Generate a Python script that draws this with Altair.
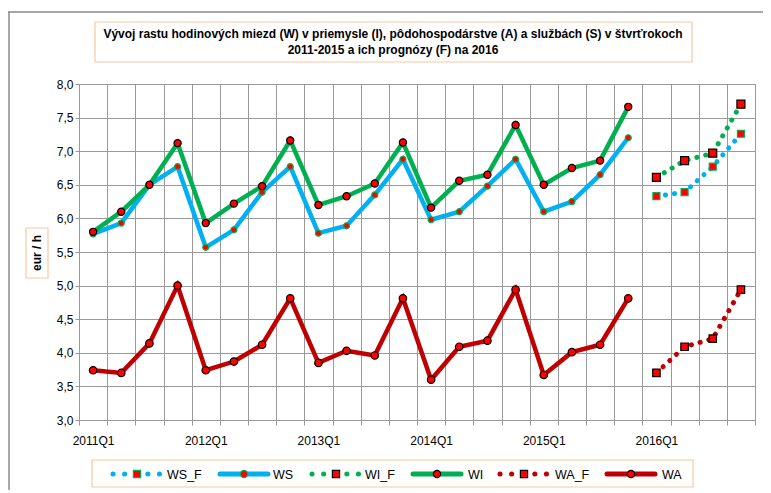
import altair as alt
import pandas as pd

# ---------------- data ----------------
QUARTERS = ["2011Q1", "2011Q2", "2011Q3", "2011Q4",
            "2012Q1", "2012Q2", "2012Q3", "2012Q4",
            "2013Q1", "2013Q2", "2013Q3", "2013Q4",
            "2014Q1", "2014Q2", "2014Q3", "2014Q4",
            "2015Q1", "2015Q2", "2015Q3", "2015Q4",
            "2016Q1", "2016Q2", "2016Q3", "2016Q4"]

WS = [5.77, 5.93, 6.50, 6.77, 5.57, 5.83, 6.39, 6.77, 5.78, 5.89,
      6.35, 6.88, 5.98, 6.10, 6.48, 6.88, 6.10, 6.25, 6.65, 7.20]
WI = [5.80, 6.10, 6.50, 7.12, 5.93, 6.22, 6.48, 7.16, 6.20, 6.33,
      6.52, 7.13, 6.16, 6.56, 6.65, 7.39, 6.50, 6.75, 6.86, 7.66]
WA = [3.74, 3.70, 4.14, 5.00, 3.74, 3.87, 4.12, 4.81, 3.85, 4.03,
      3.96, 4.81, 3.60, 4.09, 4.18, 4.94, 3.67, 4.01, 4.12, 4.81]
WS_F = [6.33, 6.39, 6.77, 7.26]
WI_F = [6.61, 6.86, 6.97, 7.70]
WA_F = [3.70, 4.09, 4.21, 4.94]

Y_TICKS = [3.0, 3.5, 4.0, 4.5, 5.0, 5.5, 6.0, 6.5, 7.0, 7.5, 8.0]

TITLE_LINE1 = "Vývoj rastu hodinových miezd (W) v priemysle (I), pôdohospodárstve (A) a službách (S) v štvrťrokoch"
TITLE_LINE2 = "2011-2015 a ich prognózy (F) na 2016"
Y_TITLE = "eur / h"
LEGEND_NAMES = ["WS_F", "WS", "WI_F", "WI", "WA_F", "WA"]

# ---------------- styles / layout ----------------
BLUE, GREEN, DRED, RED = "#00B0F0", "#00B050", "#C00000", "#FF0000"
PEACH = "#FAC8A0"
GRID = "#999999"
FONT = "Liberation Sans Narrow, Liberation Sans, Arial"
W, H = 676, 336
N = len(QUARTERS)

STYLE = {
    "WS_F": dict(color=BLUE, mstroke=GREEN, shape="square", size=49, fc=True),
    "WS":   dict(color=BLUE, mstroke=GREEN, shape="circle", size=36, fc=False),
    "WI_F": dict(color=GREEN, mstroke="#000000", shape="square", size=64, fc=True),
    "WI":   dict(color=GREEN, mstroke="#000000", shape="circle", size=52, fc=False),
    "WA_F": dict(color=DRED, mstroke="#000000", shape="square", size=56, fc=True),
    "WA":   dict(color=DRED, mstroke="#000000", shape="circle", size=56, fc=False),
}
LEG_SYM_X = [58, 165, 257, 358, 445, 552]
LEG_LAB_X = [88, 194, 286, 389, 476, 583]
LEG_Y = 390

# category boundaries for grid/ticks; labels are shifted half a band to the category centre
BOUNDS = [i - 0.5 for i in range(N + 1)]
LABEL_MAP = "{" + ",".join(f"'{i - 0.5}':'{q}'" for i, q in enumerate(QUARTERS) if q.endswith("Q1")) + "}"

x_enc = alt.X("idx:Q",
              scale=alt.Scale(domain=[-0.5, N - 0.5], nice=False, zero=False),
              axis=alt.Axis(title=None, values=BOUNDS, grid=True, ticks=True, tickSize=5,
                            labelAngle=0, labelPadding=10, labelOverlap=False,
                            labelFlush=False, labelAlign="center", labelOffset=W / N / 2,
                            labelExpr=f"{LABEL_MAP}[''+datum.value] || ''"))
y_enc = alt.Y("value:Q",
              scale=alt.Scale(domain=[3, 8], nice=False, zero=False),
              axis=alt.Axis(title=None, values=Y_TICKS, grid=True, tickSize=4, labelPadding=2,
                            labelExpr="replace(format(datum.value, '.1f'), '.', ',')"))


def series(name, start, values):
    st = STYLE[name]
    df = pd.DataFrame({"idx": list(range(start, start + len(values))), "value": values,
                       "quarter": QUARTERS[start:start + len(values)]})
    if st["fc"]:
        line = alt.Chart(df).mark_line(color=st["color"], strokeWidth=5,
                                       strokeDash=[0.1, 9], strokeCap="round")
    else:
        line = alt.Chart(df).mark_line(color=st["color"], strokeWidth=4.5)
    line = line.encode(x=x_enc, y=y_enc)
    pts = alt.Chart(df).mark_point(shape=st["shape"], fill=RED, stroke=st["mstroke"],
                                   strokeWidth=1.2, size=st["size"], opacity=1,
                                   fillOpacity=1).encode(x=x_enc, y=y_enc)
    return [line, pts]


one = pd.DataFrame({"a": [0]})

deco = [
    alt.Chart(one).mark_rule(color="#8a8a8a", strokeWidth=1.5).encode(
        x=alt.value(-71), x2=alt.value(W + 8), y=alt.value(-72)),
    alt.Chart(one).mark_rule(color="#8a8a8a", strokeWidth=1.5).encode(
        x=alt.value(-70), y=alt.value(-72), y2=alt.value(H + 80)),
    alt.Chart(one).mark_rect(fill="white", stroke=PEACH, strokeWidth=1.2).encode(
        x=alt.value(16), x2=alt.value(613), y=alt.value(-62), y2=alt.value(-22)),
    alt.Chart(one).mark_text(font=FONT, fontSize=12, fontWeight="bold", color="black",
                             align="center", baseline="middle").encode(
        x=alt.value(314), y=alt.value(-50), text=alt.value(TITLE_LINE1)),
    alt.Chart(one).mark_text(font=FONT, fontSize=12, fontWeight="bold", color="black",
                             align="center", baseline="middle").encode(
        x=alt.value(314), y=alt.value(-34), text=alt.value(TITLE_LINE2)),
    alt.Chart(one).mark_rect(fill="white", stroke=PEACH, strokeWidth=1.2).encode(
        x=alt.value(-53), x2=alt.value(-31), y=alt.value(144), y2=alt.value(194)),
    alt.Chart(one).mark_text(font="Liberation Sans", fontSize=12, fontWeight="bold",
                             color="black", angle=270, align="center",
                             baseline="middle").encode(
        x=alt.value(-42), y=alt.value(169), text=alt.value(Y_TITLE)),
    alt.Chart(one).mark_rect(fill="white", stroke=PEACH, strokeWidth=1.2).encode(
        x=alt.value(13), x2=alt.value(614), y=alt.value(LEG_Y - 14), y2=alt.value(LEG_Y + 13)),
]

legend = []
for name, sx, lxp in zip(LEGEND_NAMES, LEG_SYM_X, LEG_LAB_X):
    st = STYLE[name]
    if st["fc"]:
        legend.append(alt.Chart(one).mark_rule(color=st["color"], strokeWidth=5, strokeCap="round",
                                               strokeDash=[0.1, 11.5]).encode(
            x=alt.value(sx - 24), x2=alt.value(sx + 24), y=alt.value(LEG_Y)))
    else:
        legend.append(alt.Chart(one).mark_rule(color=st["color"], strokeWidth=5,
                                               strokeCap="round").encode(
            x=alt.value(sx - 24), x2=alt.value(sx + 24), y=alt.value(LEG_Y)))
    legend.append(alt.Chart(one).mark_point(shape=st["shape"], fill=RED, stroke=st["mstroke"],
                                            strokeWidth=1.2, size=52, opacity=1,
                                            fillOpacity=1).encode(
        x=alt.value(sx), y=alt.value(LEG_Y)))
    legend.append(alt.Chart(one).mark_text(font=FONT, fontSize=12.5, align="left",
                                           baseline="middle", color="black").encode(
        x=alt.value(lxp), y=alt.value(LEG_Y + 1), text=alt.value(name)))

data_layers = []
data_layers += series("WS_F", 20, WS_F)
data_layers += series("WS", 0, WS)
data_layers += series("WI_F", 20, WI_F)
data_layers += series("WI", 0, WI)
data_layers += series("WA_F", 20, WA_F)
data_layers += series("WA", 0, WA)

chart = alt.layer(*data_layers[:2], *deco, *data_layers[2:], *legend).properties(
    width=W, height=H,
    autosize=alt.AutoSizeParams(type="none"),
    padding={"left": 71, "top": 76, "right": 8, "bottom": 70},
    background="white",
).configure_view(
    stroke=GRID, strokeWidth=1
).configure_axis(
    gridColor=GRID, gridWidth=1, domainColor=GRID, tickColor=GRID, domainWidth=1,
    labelFont="Liberation Sans", labelFontSize=12, labelColor="black",
)

chart.save("out.html", embed_options={"renderer": "svg", "actions": False})
